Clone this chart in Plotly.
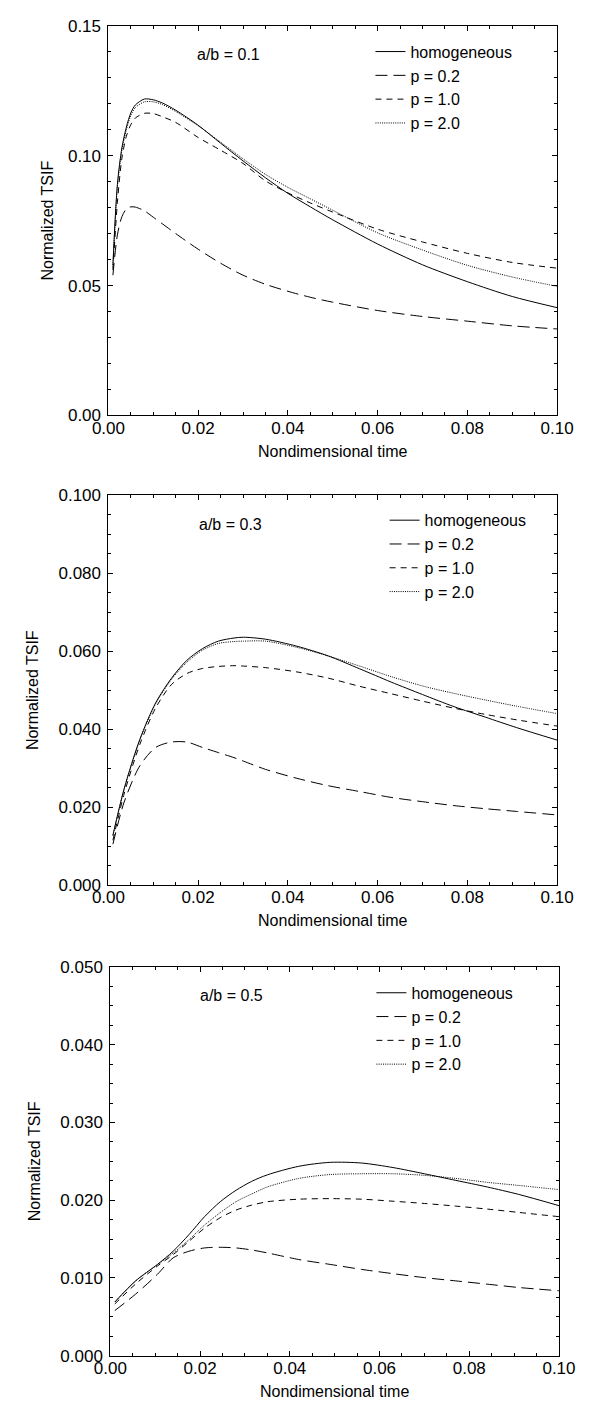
import plotly.graph_objects as go

# ---------------- data ----------------
series_names = ["homogeneous", "p = 0.2", "p = 1.0", "p = 2.0"]
panel_labels = ["a/b = 0.1", "a/b = 0.3", "a/b = 0.5"]
x_title = "Nondimensional time"
y_title = "Normalized TSIF"

# Panel 1 : a/b = 0.1
t1 = [0.001, 0.002, 0.003, 0.004, 0.005, 0.006, 0.008, 0.010, 0.012, 0.015,
      0.020, 0.025, 0.030, 0.035, 0.040, 0.045, 0.050, 0.060, 0.070, 0.080,
      0.090, 0.100]
hom1 = [0.058, 0.089, 0.103, 0.111, 0.1165, 0.1195, 0.1218, 0.1215, 0.1203, 0.1175,
        0.1117, 0.1048, 0.0980, 0.0915, 0.0855, 0.0803, 0.0753, 0.0660, 0.0580, 0.0515,
        0.0458, 0.0415]
p02_1 = [0.054, 0.0695, 0.0765, 0.0795, 0.0803, 0.0802, 0.0788, 0.0763, 0.0738, 0.0700,
         0.0640, 0.0586, 0.0540, 0.0505, 0.0478, 0.0455, 0.0436, 0.0404, 0.0381, 0.0363,
         0.0345, 0.0333]
p10_1 = [0.056, 0.082, 0.099, 0.1075, 0.112, 0.1145, 0.1163, 0.1162, 0.1150, 0.1128,
         0.1070, 0.1021, 0.0970, 0.0903, 0.0857, 0.0818, 0.0783, 0.0717, 0.0668, 0.0624,
         0.0589, 0.0567]
p20_1 = [0.057, 0.088, 0.102, 0.110, 0.1155, 0.1185, 0.1207, 0.1207, 0.1197, 0.1170,
         0.1115, 0.1052, 0.0988, 0.0928, 0.0878, 0.0834, 0.0790, 0.0703, 0.0637, 0.0578,
         0.0533, 0.0497]

# Panel 2 : a/b = 0.3
t2 = [0.001, 0.0035, 0.007, 0.0105, 0.014, 0.0175, 0.021, 0.0245, 0.028, 0.0301,
      0.035, 0.042, 0.049, 0.056, 0.063, 0.070, 0.077, 0.084, 0.091, 0.100]
hom2 = [0.0128, 0.0247, 0.0374, 0.0467, 0.0530, 0.0577, 0.0607, 0.0626, 0.0634, 0.0636,
        0.0631, 0.0613, 0.0588, 0.0555, 0.0521, 0.0489, 0.0458, 0.0431, 0.0404, 0.0372]
p02_2 = [0.0105, 0.0213, 0.0306, 0.0353, 0.0367, 0.0367, 0.0353, 0.0340, 0.0327, 0.0318,
         0.0297, 0.0274, 0.0255, 0.0240, 0.0225, 0.0214, 0.0204, 0.0196, 0.0189, 0.0180]
p10_2 = [0.0115, 0.0234, 0.0361, 0.0454, 0.0514, 0.0543, 0.0556, 0.0561, 0.0563, 0.0562,
         0.0558, 0.0547, 0.0531, 0.0510, 0.0491, 0.0472, 0.0454, 0.0438, 0.0424, 0.0408]
p20_2 = [0.0127, 0.0246, 0.0372, 0.0465, 0.0527, 0.0572, 0.0603, 0.0620, 0.0625, 0.0626,
         0.0626, 0.0610, 0.0588, 0.0562, 0.0535, 0.0511, 0.0492, 0.0475, 0.0459, 0.0440]

# Panel 3 : a/b = 0.5
t3 = [0.001, 0.0056, 0.0105, 0.014, 0.0175, 0.021, 0.0245, 0.028, 0.0315, 0.035,
      0.042, 0.049, 0.056, 0.063, 0.070, 0.077, 0.084, 0.091, 0.100]
hom3 = [0.0069, 0.0096, 0.01174, 0.01343, 0.01555, 0.01788, 0.0198, 0.02127, 0.02242, 0.02326,
        0.02436, 0.02487, 0.02478, 0.0242, 0.0234, 0.02255, 0.0217, 0.02075, 0.0193]
p02_3 = [0.0058, 0.0079, 0.01047, 0.01258, 0.01343, 0.01386, 0.01394, 0.01386, 0.0136, 0.01322,
         0.01237, 0.01174, 0.0111, 0.01055, 0.01004, 0.00962, 0.0092, 0.00877, 0.00835]
p10_3 = [0.00665, 0.0092, 0.01153, 0.0130, 0.0147, 0.0164, 0.01775, 0.01873, 0.01936, 0.0198,
         0.02013, 0.0202, 0.02013, 0.01987, 0.01958, 0.01924, 0.01886, 0.01843, 0.01788]
p20_3 = [0.0069, 0.0096, 0.0117, 0.0132, 0.0149, 0.0168, 0.0184, 0.0198, 0.0208, 0.0217,
         0.0228, 0.0233, 0.0234, 0.0234, 0.0232, 0.0228, 0.0223, 0.0219, 0.02136]

panels = [
    (t1, [hom1, p02_1, p10_1, p20_1]),
    (t2, [hom2, p02_2, p10_2, p20_2]),
    (t3, [hom3, p02_3, p10_3, p20_3]),
]
y_ranges = [[0, 0.15], [0, 0.100], [0, 0.050]]
y_dticks = [0.05, 0.02, 0.01]
y_minor = [0.01, 0.005, 0.0025]
y_formats = [".2f", ".3f", ".3f"]

# ---------------- styling ----------------
W, H = 592, 1416
FONT = "Liberation Sans, Arial, Helvetica, sans-serif"
FS_TICK = 17
FS_TITLE = 16
FS_LEG = 16
dashes = ["solid", "12px,6px", "6px,5px", "1px,1.2px"]

# pixel boxes of the three plot areas (left, right, top, bottom)
boxes = [(97, 573, 17, 412), (97, 573, 493, 888), (99, 575, 971, 1365)]
legend_pos = [(375, 26), (390, 501), (376, 980)]
label_pos = [(224, 46), (226, 523), (228, 1000)]
ytitle_standoff = [10, 15, 15]

fig = go.Figure()
for i, (t, ys) in enumerate(panels):
    ax = "" if i == 0 else str(i + 1)
    leg = "legend" if i == 0 else f"legend{i + 1}"
    for name, y, d in zip(series_names, ys, dashes):
        fig.add_trace(go.Scatter(
            x=t, y=y, name=name, mode="lines",
            line=dict(color="black", width=1, dash=d, shape="spline", smoothing=0.8),
            xaxis="x" + ax, yaxis="y" + ax, legend=leg, showlegend=True,
        ))

layout = dict(
    width=W, height=H, margin=dict(l=0, r=0, t=0, b=0),
    paper_bgcolor="white", plot_bgcolor="white",
    font=dict(family=FONT, size=FS_TITLE, color="black"),
    showlegend=True,
)
annotations = []
for i, (l, r, tp, bt) in enumerate(boxes):
    ax = "" if i == 0 else str(i + 1)
    common = dict(showline=True, linecolor="black", linewidth=1, mirror="ticks",
                  ticks="inside", ticklen=5, tickwidth=1, tickcolor="black",
                  showgrid=False, zeroline=False,
                  tickfont=dict(family=FONT, size=FS_TICK, color="black"))
    layout["xaxis" + ax] = dict(
        common, domain=[l / W, r / W], range=[0, 0.1], dtick=0.02, tick0=0,
        tickformat=".2f", anchor="y" + ax, ticklabelstandoff=-3,
        minor=dict(dtick=0.005, tick0=0, ticks="inside", ticklen=3, tickcolor="black", showgrid=False),
        title=dict(text=x_title, standoff=8, font=dict(family=FONT, size=FS_TITLE)),
    )
    layout["yaxis" + ax] = dict(
        common, domain=[1 - bt / H, 1 - tp / H], range=y_ranges[i], dtick=y_dticks[i], tick0=0,
        tickformat=y_formats[i], anchor="x" + ax, ticklabelstandoff=3,
        minor=dict(dtick=y_minor[i], tick0=0, ticks="inside", ticklen=3, tickcolor="black", showgrid=False),
        title=dict(text=y_title, standoff=ytitle_standoff[i], font=dict(family=FONT, size=FS_TITLE)),
    )
    lx, ly = legend_pos[i]
    layout["legend" if i == 0 else f"legend{i + 1}"] = dict(
        x=lx / W, y=1 - ly / H, xanchor="left", yanchor="top",
        bgcolor="rgba(0,0,0,0)", borderwidth=0, itemwidth=30,
        font=dict(family=FONT, size=FS_LEG, color="black"), tracegroupgap=0,
    )
    ax_x, ax_y = label_pos[i]
    annotations.append(dict(
        text=panel_labels[i], xref="paper", yref="paper",
        x=ax_x / W, y=1 - ax_y / H, xanchor="center", yanchor="middle",
        showarrow=False, font=dict(family=FONT, size=FS_TITLE, color="black"),
    ))
layout["annotations"] = annotations
fig.update_layout(**layout)

fig.write_html("out.html")
